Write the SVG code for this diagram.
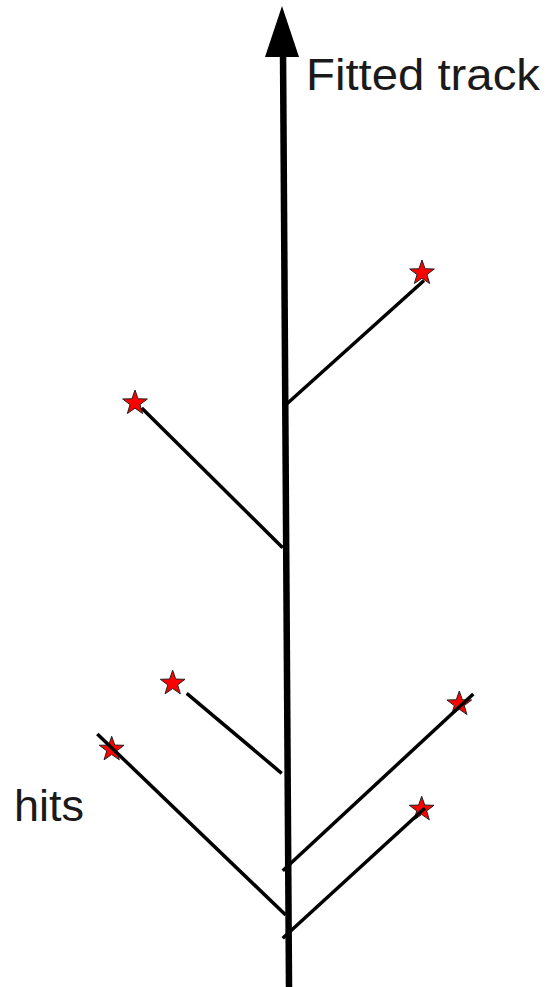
<svg xmlns="http://www.w3.org/2000/svg" width="546" height="987" viewBox="0 0 546 987">
  <style>
    .lbl { font-family: "Liberation Sans", Arial, sans-serif; font-size: 45px; fill: #1a1a1a; }
    .star { fill: #ff0000; stroke: #222; stroke-width: 1; }
    .res { stroke: #000; stroke-width: 3.5; fill: none; }
  </style>
  <defs>
    <polygon id="star" points="0,-13 3.06,-4.21 12.36,-4.02 4.95,1.61 7.64,10.52 0,5.2 -7.64,10.52 -4.95,1.61 -12.36,-4.02 -3.06,-4.21"/>
  </defs>
  <rect width="546" height="987" fill="#fff"/>
  <g id="hit1"><use href="#star" class="star" x="422" y="273"/></g>
  <g id="hit2"><use href="#star" class="star" x="135" y="403"/></g>
  <g id="hit3"><use href="#star" class="star" x="172.7" y="683.3"/></g>
  <g id="hit4"><use href="#star" class="star" x="111.7" y="749.3"/></g>
  <g id="hit5"><use href="#star" class="star" x="459.3" y="704"/></g>
  <g id="hit6"><use href="#star" class="star" x="421.7" y="809.3"/></g>
  <g id="connectors">
    <line class="res" x1="286.7" y1="404" x2="424" y2="280.5"/>
    <line class="res" x1="141.7" y1="408" x2="282.7" y2="547.7"/>
    <line class="res" x1="186.7" y1="693.3" x2="281.7" y2="773.3"/>
    <line class="res" x1="97.3" y1="734" x2="285.7" y2="915"/>
    <line class="res" x1="282.7" y1="870.7" x2="473.3" y2="694"/>
    <line class="res" x1="282.7" y1="938.3" x2="425" y2="808"/>
  </g>
  <g id="track">
    <line x1="283" y1="50" x2="289" y2="987" stroke="#000" stroke-width="6.5"/>
    <polygon points="282,6 299,57 265,57" fill="#000"/>
    <text class="lbl" x="306" y="90" font-size="44" textLength="234" lengthAdjust="spacingAndGlyphs">Fitted track</text>
  </g>
  <g id="hits-label">
    <text class="lbl" x="14" y="821">hits</text>
  </g>
</svg>
